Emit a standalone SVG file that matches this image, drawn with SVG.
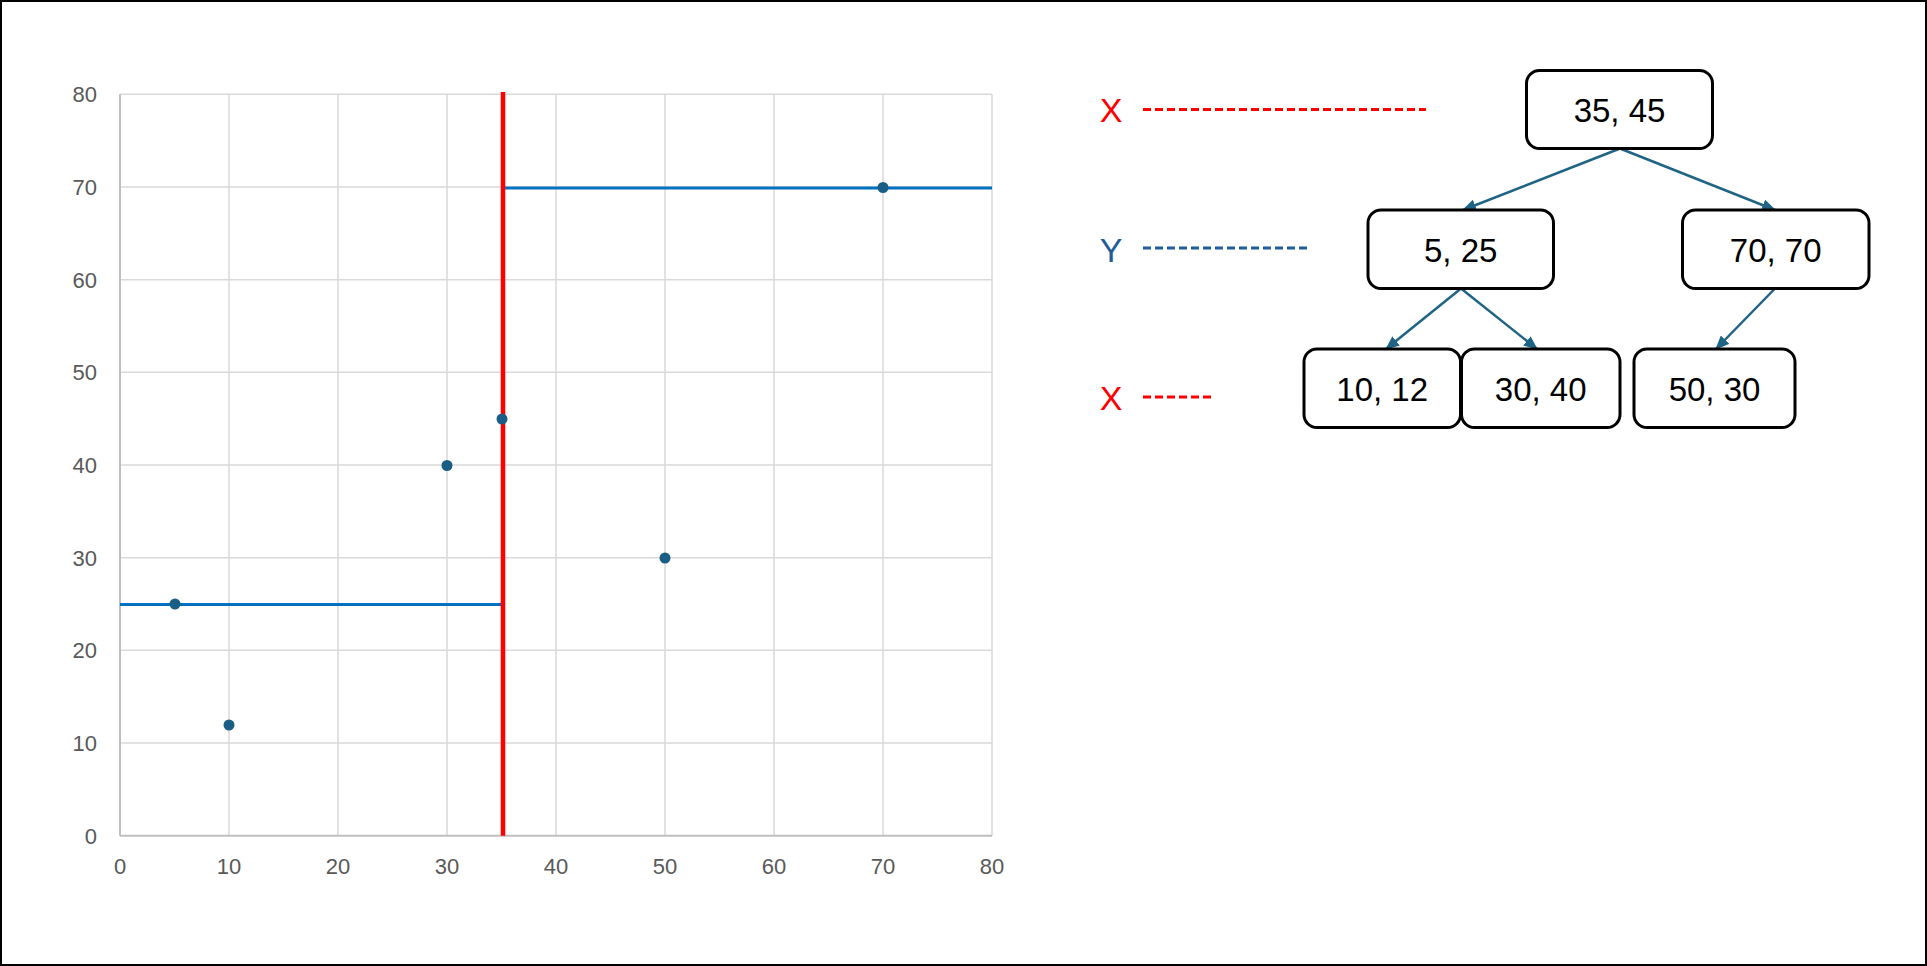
<svg xmlns="http://www.w3.org/2000/svg" width="1927" height="966" viewBox="0 0 1927 966">
<style>
.grid{stroke:#d9d9d9;stroke-width:1.5;fill:none}
.axis{stroke:#bfbfbf;stroke-width:2;fill:none}
.tick{font-family:"Liberation Sans",Arial,sans-serif;font-size:22px;fill:#595959}
.dot{fill:#1a5e86}
.split{stroke:#0070c0;stroke-width:3;fill:none}
.node rect{fill:#fff;stroke:#000;stroke-width:3}
.node text{font-family:"Liberation Sans",Arial,sans-serif;font-size:33px;fill:#000;text-anchor:middle}
.edge{stroke:#1f6385;stroke-width:2.5;fill:none;marker-end:url(#ah)}
.lvl{font-family:"Liberation Sans",Arial,sans-serif;font-size:34px}
</style>
<defs>
<marker id="ah" markerUnits="userSpaceOnUse" markerWidth="14" markerHeight="12" viewBox="0 0 14 12" refX="13" refY="6" orient="auto">
<path d="M0,0 L14,6 L0,12 Z" fill="#1f6385"/>
</marker>
</defs>
<rect x="0" y="0" width="1927" height="966" fill="#fff"/>
<rect x="1" y="1" width="1925" height="964" fill="none" stroke="#000" stroke-width="2"/>

<g id="chart">
<g id="gridlines">
<line class="grid" x1="120" y1="94.3" x2="992" y2="94.3"/>
<line class="grid" x1="120" y1="187" x2="992" y2="187"/>
<line class="grid" x1="120" y1="279.7" x2="992" y2="279.7"/>
<line class="grid" x1="120" y1="372.3" x2="992" y2="372.3"/>
<line class="grid" x1="120" y1="465" x2="992" y2="465"/>
<line class="grid" x1="120" y1="557.7" x2="992" y2="557.7"/>
<line class="grid" x1="120" y1="650.3" x2="992" y2="650.3"/>
<line class="grid" x1="120" y1="743" x2="992" y2="743"/>
<line class="grid" x1="229" y1="94.3" x2="229" y2="835.7"/>
<line class="grid" x1="338" y1="94.3" x2="338" y2="835.7"/>
<line class="grid" x1="447" y1="94.3" x2="447" y2="835.7"/>
<line class="grid" x1="556" y1="94.3" x2="556" y2="835.7"/>
<line class="grid" x1="665" y1="94.3" x2="665" y2="835.7"/>
<line class="grid" x1="774" y1="94.3" x2="774" y2="835.7"/>
<line class="grid" x1="883" y1="94.3" x2="883" y2="835.7"/>
<line class="grid" x1="992" y1="94.3" x2="992" y2="835.7"/>
<line class="axis" x1="120" y1="94.3" x2="120" y2="835.7"/>
<line class="axis" x1="120" y1="835.7" x2="992" y2="835.7"/>
</g>
<g id="ylabels" class="tick" text-anchor="end">
<text x="97" y="102">80</text>
<text x="97" y="195">70</text>
<text x="97" y="287.5">60</text>
<text x="97" y="380">50</text>
<text x="97" y="473">40</text>
<text x="97" y="565.5">30</text>
<text x="97" y="658">20</text>
<text x="97" y="751">10</text>
<text x="97" y="843.5">0</text>
</g>
<g id="xlabels" class="tick" text-anchor="middle">
<text x="120" y="874">0</text>
<text x="229" y="874">10</text>
<text x="338" y="874">20</text>
<text x="447" y="874">30</text>
<text x="556" y="874">40</text>
<text x="665" y="874">50</text>
<text x="774" y="874">60</text>
<text x="883" y="874">70</text>
<text x="992" y="874">80</text>
</g>
<g id="splits">
<line class="split" x1="120" y1="604.5" x2="503" y2="604.5"/>
<line class="split" x1="503" y1="188" x2="992" y2="188"/>
<line x1="503" y1="92" x2="503" y2="835.7" stroke="#ff0000" stroke-width="4.5"/>
</g>
<g id="points">
<circle class="dot" cx="175" cy="604" r="5.5"/>
<circle class="dot" cx="229" cy="725" r="5.5"/>
<circle class="dot" cx="447" cy="465.5" r="5.5"/>
<circle class="dot" cx="502" cy="419" r="5.5"/>
<circle class="dot" cx="665" cy="558" r="5.5"/>
<circle class="dot" cx="883" cy="187.5" r="5.5"/>
</g>
</g>

<g id="levels">
<text class="lvl" x="1111" y="122" fill="#ff0000" text-anchor="middle">X</text>
<line x1="1143" y1="109.5" x2="1426" y2="109.5" stroke="#ff0000" stroke-width="3" stroke-dasharray="8,4"/>
<text class="lvl" x="1111" y="261.5" fill="#1f5c99" text-anchor="middle">Y</text>
<line x1="1143" y1="248" x2="1307" y2="248" stroke="#1f5c99" stroke-width="3" stroke-dasharray="8,4"/>
<text class="lvl" x="1111" y="409.5" fill="#ff0000" text-anchor="middle">X</text>
<line x1="1143" y1="397" x2="1212" y2="397" stroke="#ff0000" stroke-width="3" stroke-dasharray="8,4"/>
</g>

<g id="connectors">
<line class="edge" x1="1620" y1="148.5" x2="1463" y2="210"/>
<line class="edge" x1="1620" y1="148.5" x2="1775" y2="210"/>
<line class="edge" x1="1461" y1="288.5" x2="1386" y2="349"/>
<line class="edge" x1="1461" y1="288.5" x2="1537" y2="349"/>
<line class="edge" x1="1775" y1="288.5" x2="1716" y2="349"/>
</g>

<g id="n3545" class="node"><rect x="1526.5" y="70.5" width="186" height="78" rx="13"/><text x="1619.5" y="121.5">35, 45</text></g>
<g id="n525" class="node"><rect x="1368" y="210" width="185.5" height="78.5" rx="13"/><text x="1460.7" y="261.5">5, 25</text></g>
<g id="n7070" class="node"><rect x="1682.5" y="210" width="186.5" height="78.5" rx="13"/><text x="1775.7" y="261.5">70, 70</text></g>
<g id="n1012" class="node"><rect x="1304" y="349" width="156.5" height="78.5" rx="13"/><text x="1382.2" y="400.5">10, 12</text></g>
<g id="n3040" class="node"><rect x="1461.5" y="349" width="158.5" height="78.5" rx="13"/><text x="1540.7" y="400.5">30, 40</text></g>
<g id="n5030" class="node"><rect x="1634" y="349" width="161" height="78.5" rx="13"/><text x="1714.5" y="400.5">50, 30</text></g>
</svg>
